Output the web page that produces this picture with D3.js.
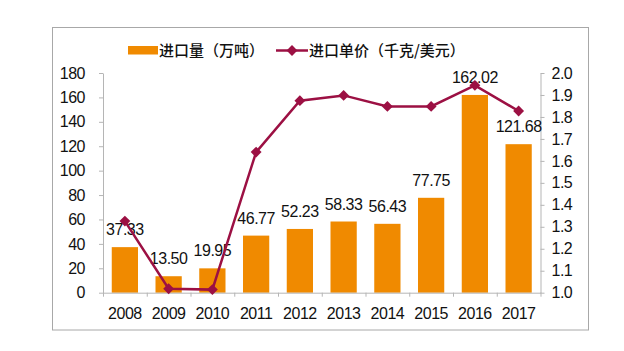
<!DOCTYPE html>
<html>
<head>
<meta charset="utf-8">
<script src="https://cdn.jsdelivr.net/npm/d3@7"></script>
<style>
  body { margin: 0; background: #fff; }
  svg { display: block; font-family: "Liberation Sans", Arial, sans-serif; }
  .axis text { font-size: 16px; letter-spacing: -0.5px; fill: #111; }
  .axis path, .axis line { stroke: #b5b5b5; }
  .vlabel { font-size: 16px; letter-spacing: -0.5px; fill: #111; }
  .legend text { font-family: "Noto Sans CJK SC", sans-serif; font-size: 15px; font-weight: 500; fill: #111; }
</style>
</head>
<body>
<div id="chart"></div>
<script>
// chart data
const years = ["2008", "2009", "2010", "2011", "2012", "2013", "2014", "2015", "2016", "2017"];
const volume = [37.33, 13.50, 19.95, 46.77, 52.23, 58.33, 56.43, 77.75, 162.02, 121.68]; // 万吨
const price = [1.326, 1.018, 1.014, 1.64, 1.874, 1.898, 1.848, 1.848, 1.944, 1.827]; // 千克/美元
const leftTicks = [0, 20, 40, 60, 80, 100, 120, 140, 160, 180];
const rightTicks = [1.0, 1.1, 1.2, 1.3, 1.4, 1.5, 1.6, 1.7, 1.8, 1.9, 2.0];
const barName = "进口量（万吨）";
const lineName = "进口单价（千克/美元）";

const width = 624, height = 351;
const plot = { left: 103, right: 540.5, top: 73, bottom: 292.7 };
const orange = "#f08a00", crimson = "#9c1043";

const svg = d3.select("#chart")
    .append("svg")
    .attr("width", width)
    .attr("height", height);

// outer frame
svg.append("rect")
    .attr("x", 52.5).attr("y", 27.5)
    .attr("width", 536).attr("height", 302.5)
    .attr("fill", "none")
    .attr("stroke", "#a8a8a8");

const x = d3.scaleBand()
    .domain(years)
    .range([plot.left, plot.right])
    .paddingInner(0.4)
    .paddingOuter(0.2);

const yL = d3.scaleLinear().domain([0, 180]).range([plot.bottom, plot.top]);
const yR = d3.scaleLinear().domain([1.0, 2.0]).range([plot.bottom, plot.top]);

// bars
svg.append("g")
  .selectAll("rect")
  .data(years)
  .join("rect")
    .attr("x", d => x(d))
    .attr("width", x.bandwidth())
    .attr("y", (d, i) => yL(volume[i]))
    .attr("height", (d, i) => yL(0) - yL(volume[i]))
    .attr("fill", orange);

// left axis
svg.append("g")
    .attr("class", "axis")
    .attr("transform", `translate(${plot.left},0)`)
    .call(d3.axisLeft(yL).tickValues(leftTicks).tickSize(4).tickSizeOuter(0).tickPadding(14));

// right axis
svg.append("g")
    .attr("class", "axis")
    .attr("transform", `translate(${plot.right},0)`)
    .call(d3.axisRight(yR).tickValues(rightTicks).tickSize(4).tickSizeOuter(0).tickPadding(7)
        .tickFormat(d3.format(".1f")));

// bottom axis: ticks sit between categories, labels at centres
const xb = d3.scaleLinear().domain([0, years.length]).range([plot.left, plot.right]);
svg.append("g")
    .attr("class", "axis")
    .attr("transform", `translate(0,${plot.bottom})`)
    .call(d3.axisBottom(xb).ticks(years.length).tickSize(4).tickSizeOuter(0).tickFormat(""));

svg.append("g")
    .attr("class", "axis")
    .attr("transform", `translate(0,${plot.bottom})`)
    .call(d3.axisBottom(x).tickSize(0).tickPadding(15))
    .call(g => g.select(".domain").remove());

// bar value labels
svg.append("g")
  .selectAll("text")
  .data(years)
  .join("text")
    .attr("class", "vlabel")
    .attr("x", d => x(d) + x.bandwidth() / 2)
    .attr("y", (d, i) => yL(volume[i]) - 12)
    .attr("text-anchor", "middle")
    .text((d, i) => volume[i].toFixed(2));

// price line
const line = d3.line()
    .x((d, i) => x(years[i]) + x.bandwidth() / 2)
    .y(d => yR(d));

svg.append("path")
    .datum(price)
    .attr("d", line)
    .attr("fill", "none")
    .attr("stroke", crimson)
    .attr("stroke-width", 2.5);

const diamond = d3.symbol().type(d3.symbolDiamond2).size(75);
svg.append("g")
  .selectAll("path")
  .data(price)
  .join("path")
    .attr("transform", (d, i) => `translate(${x(years[i]) + x.bandwidth() / 2},${yR(d)})`)
    .attr("d", diamond)
    .attr("fill", crimson);

// legend
const legend = svg.append("g").attr("class", "legend");
legend.append("rect")
    .attr("x", 128).attr("y", 46)
    .attr("width", 30).attr("height", 8.5)
    .attr("fill", orange);
legend.append("text")
    .attr("x", 159).attr("y", 56)
    .text(barName);
legend.append("line")
    .attr("x1", 276).attr("x2", 308)
    .attr("y1", 50.5).attr("y2", 50.5)
    .attr("stroke", crimson)
    .attr("stroke-width", 2.5);
legend.append("path")
    .attr("transform", "translate(292,50.5)")
    .attr("d", diamond)
    .attr("fill", crimson);
legend.append("text")
    .attr("x", 309).attr("y", 56)
    .text(lineName);
</script>
</body>
</html>
